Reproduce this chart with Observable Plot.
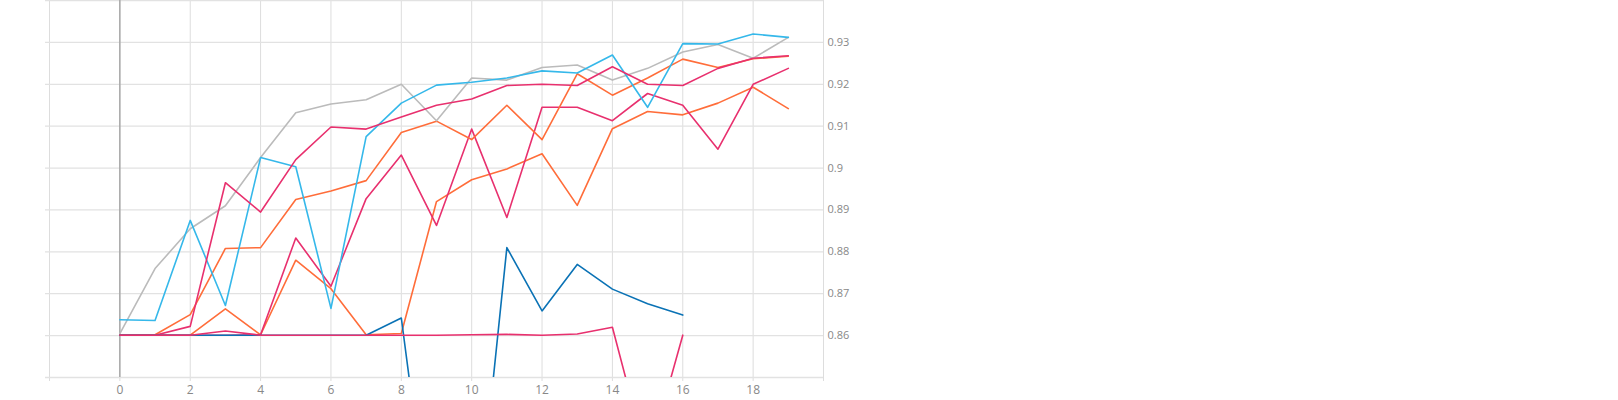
<!DOCTYPE html>
<html><head><meta charset="utf-8">
<script src="https://cdn.jsdelivr.net/npm/d3@7"></script>
<script src="https://cdn.jsdelivr.net/npm/@observablehq/plot@0.6"></script>
<style>body{margin:0;background:#fff;font-family:"Open Sans",sans-serif}</style>
</head><body><div id="c"></div>
<script>
const xs = [0,1,2,3,4,5,6,7,8,9,10,11,12,13,14,15,16,17,18,19];
const darkBlue = [0.8601,0.8601,0.8601,0.8601,0.8601,0.8601,0.8601,0.8601,0.8642,0.80,0.80,0.881,0.8659,0.877,0.8711,0.8676,0.8649];
const pinkLow = [0.8601,0.8601,0.8601,0.8611,0.8601,0.8601,0.8601,0.8601,0.8601,0.8601,0.8602,0.8603,0.8601,0.8604,0.862,0.83,0.8601];
const lightBlue = [0.8638,0.8636,0.8875,0.8672,0.9025,0.9003,0.8665,0.9075,0.9155,0.9198,0.9205,0.9215,0.9232,0.9227,0.927,0.9145,0.9297,0.9296,0.932,0.9312];
const gray = [0.8605,0.876,0.8855,0.891,0.9025,0.9132,0.9153,0.9163,0.92,0.9113,0.9215,0.921,0.924,0.9246,0.921,0.9238,0.9277,0.9295,0.9262,0.9312];
const pinkTop = [0.8601,0.8601,0.8622,0.8965,0.8895,0.902,0.9098,0.9093,0.9122,0.915,0.9165,0.9197,0.92,0.9197,0.9242,0.92,0.9197,0.9238,0.9262,0.9268];
const orangeTop = [0.8601,0.8602,0.865,0.8808,0.881,0.8925,0.8945,0.897,0.9085,0.9112,0.9068,0.915,0.9068,0.9225,0.9174,0.9215,0.926,0.924,0.9261,0.9267];
const pinkMid = [0.8601,0.8601,0.8601,0.8601,0.8602,0.8833,0.8718,0.8927,0.9031,0.8863,0.9093,0.8882,0.9145,0.9145,0.9113,0.9178,0.915,0.9045,0.92,0.9238];
const orangeLow = [0.8601,0.8601,0.8601,0.8664,0.8602,0.878,0.8712,0.8602,0.8605,0.892,0.8972,0.8998,0.9034,0.8911,0.9094,0.9135,0.9127,0.9155,0.9193,0.9142];
const xGrid = [-2,0,2,4,6,8,10,12,14,16,18,20];
const xLabels = [0,2,4,6,8,10,12,14,16,18];
const yGrid = [0.85,0.86,0.87,0.88,0.89,0.90,0.91,0.92,0.93,0.94];
const yLabels = [0.86,0.87,0.88,0.89,0.90,0.91,0.92,0.93];

const series = [
  ["orangeLow", orangeLow, "#ff6d3a"],
  ["pinkMid", pinkMid, "#e8306e"],
  ["orangeTop", orangeTop, "#ff6d3a"],
  ["gray", gray, "#bbbbbb"],
  ["lightBlue", lightBlue, "#35b8ea"],
  ["pinkTop", pinkTop, "#e8306e"],
  ["darkBlue", darkBlue, "#0a72b5"],
  ["pinkLow", pinkLow, "#e8306e"]
];
const lineMarks = series.map(([n, vals, col]) =>
  Plot.line(vals.map((v,i)=>({x: xs[i], y: v})), {x:"x", y:"y", stroke: col, strokeWidth: 1.6, clip: true}));

const chart = Plot.plot({
  width: 1618, height: 400,
  marginLeft: 49, marginRight: 795, marginTop: 0, marginBottom: 23,
  x: {domain: [-2, 20], axis: null},
  y: {domain: [0.85, 0.94], axis: null},
  style: {fontFamily: "Open Sans, sans-serif", overflow: "visible"},
  marks: [
    Plot.ruleX(xGrid, {stroke: "#ddd", strokeWidth: 1, y1: 0.94, y2: 0.85, insetBottom: -4}),
    Plot.ruleY(yGrid, {stroke: "#e2e2e2", strokeWidth: 1.3, insetLeft: -4}),
    Plot.ruleX([0], {stroke: "#999", strokeWidth: 1.2}),
    ...lineMarks,
    Plot.text(xLabels, {x: d=>d, frameAnchor: "bottom", lineAnchor: "top", dy: 8, text: d=>String(d), fill: "#888", fontSize: 12}),
    Plot.text(yLabels, {y: d=>d, frameAnchor: "right", textAnchor: "start", dx: 4, text: d=>String(+d.toFixed(2)), fill: "#888", fontSize: 11})
  ]
});
document.getElementById("c").appendChild(chart);
</script></body></html>
